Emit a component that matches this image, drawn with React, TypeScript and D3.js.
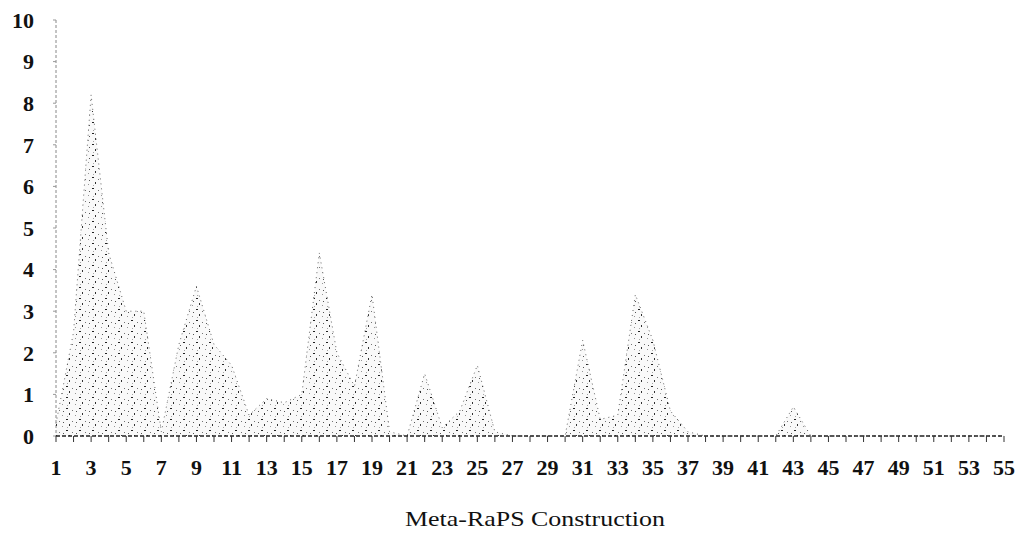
import React from "react";
import * as d3 from "d3";

// categories on the x axis (every category gets a tick, odd ones a label)
const categories = [
  1, 2, 3, 4, 5, 6, 7, 8, 9, 10, 11, 12, 13, 14, 15, 16, 17, 18, 19, 20,
  21, 22, 23, 24, 25, 26, 27, 28, 29, 30, 31, 32, 33, 34, 35, 36, 37, 38, 39, 40,
  41, 42, 43, 44, 45, 46, 47, 48, 49, 50, 51, 52, 53, 54, 55,
];

// values
const values = [
  0.3, 2.5, 8.2, 4.4, 3.0, 3.0, 0.1, 2.2, 3.6, 2.2, 1.7, 0.5, 0.9, 0.8, 1.0, 4.4, 2.0, 1.2, 3.4, 0.1,
  0, 1.5, 0.2, 0.6, 1.7, 0.1, 0, 0, 0, 0, 2.3, 0.4, 0.5, 3.4, 2.3, 0.6, 0.1, 0, 0, 0,
  0, 0, 0.7, 0, 0, 0, 0, 0, 0, 0, 0, 0, 0, 0, 0,
];

const yTicks = [0, 1, 2, 3, 4, 5, 6, 7, 8, 9, 10];
const xTitle = "Meta-RaPS Construction";

const W = 1025;
const H = 534;
const left = 56;
const right = 1004;
const top = 20;
const bottom = 436;

const font = "'Liberation Serif', 'DejaVu Serif', serif";

export default function App() {
  const x = d3.scalePoint<number>().domain(categories).range([left, right]);
  const y = d3.scaleLinear().domain([0, 10]).range([bottom, top]);

  const data = categories.map((c, i) => ({ c, v: values[i] }));

  const area = d3
    .area<{ c: number; v: number }>()
    .x((d) => x(d.c) as number)
    .y0(y(0))
    .y1((d) => y(d.v));

  const line = d3
    .line<{ c: number; v: number }>()
    .x((d) => x(d.c) as number)
    .y((d) => y(d.v));

  return (
    <svg
      width={W}
      height={H}
      style={{ position: "absolute", left: 0, top: 0, background: "#fff" }}
    >
      <defs>
        {/* sparse grain to mimic the scanned fill */}
        <pattern id="speckle" width="13" height="11" patternUnits="userSpaceOnUse">
          <rect x="1" y="1" width="2" height="1" fill="#222" />
          <rect x="7" y="3" width="1" height="1" fill="#777" />
          <rect x="4" y="6" width="1" height="2" fill="#333" />
          <rect x="10" y="8" width="1" height="1" fill="#999" />
          <rect x="11" y="4" width="1" height="1" fill="#555" />
          <rect x="2" y="9" width="1" height="1" fill="#aaa" />
        </pattern>
      </defs>

      {/* y axis */}
      <line x1={left} x2={left} y1={top} y2={bottom} stroke="#888" strokeWidth={1} strokeDasharray="3,2" />
      {yTicks.map((t) => (
        <g key={t}>
          <line x1={left - 3} x2={left} y1={y(t)} y2={y(t)} stroke="#999" />
          <text
            x={34}
            y={y(t)}
            dy="0.35em"
            textAnchor="end"
            fontFamily={font}
            fontWeight="bold"
            fontSize={22}
            fill="#111"
          >
            {t}
          </text>
        </g>
      ))}

      {/* series */}
      <path d={area(data) ?? ""} fill="url(#speckle)" />
      <path d={area(data) ?? ""} fill="#000" fillOpacity={0.025} />
      <path d={line(data) ?? ""} fill="none" stroke="#666" strokeWidth={1} strokeDasharray="1,4" />

      {/* x axis */}
      <line x1={left} x2={right} y1={bottom} y2={bottom} stroke="#222" strokeWidth={1.5} strokeDasharray="4,2" />
      {categories.map((c) => (
        <line
          key={c}
          x1={x(c)}
          x2={x(c)}
          y1={bottom}
          y2={bottom + 6}
          stroke="#333"
          strokeWidth={1}
        />
      ))}
      {categories
        .filter((c) => c % 2 === 1)
        .map((c) => (
          <text
            key={c}
            x={x(c)}
            y={475}
            textAnchor="middle"
            fontFamily={font}
            fontWeight="bold"
            fontSize={22}
            fill="#111"
          >
            {c}
          </text>
        ))}

      <text
        x={535}
        y={526}
        textAnchor="middle"
        fontFamily={font}
        fontSize={21}
        textLength={260}
        lengthAdjust="spacingAndGlyphs"
        fill="#111"
      >
        {xTitle}
      </text>
    </svg>
  );
}
